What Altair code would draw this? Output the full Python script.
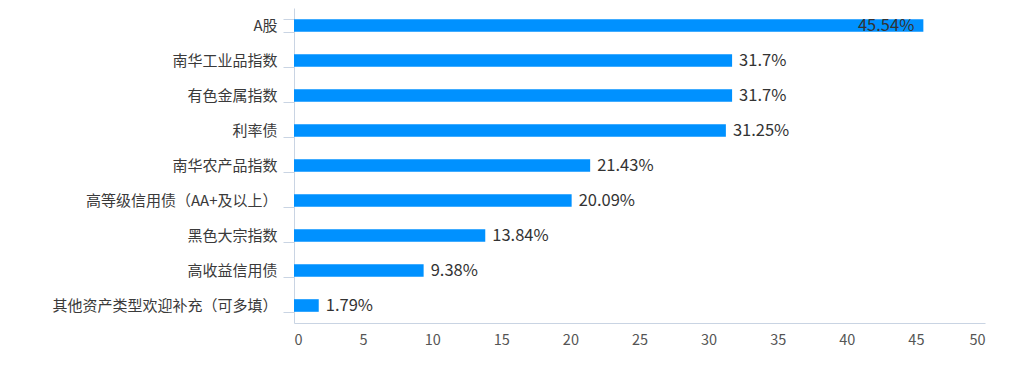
import altair as alt
import pandas as pd

categories = ["A股", "南华工业品指数", "有色金属指数", "利率债", "南华农产品指数",
              "高等级信用债（AA+及以上）", "黑色大宗指数", "高收益信用债", "其他资产类型欢迎补充（可多填）"]
values = [45.54, 31.7, 31.7, 31.25, 21.43, 20.09, 13.84, 9.38, 1.79]
labels = ["45.54%", "31.7%", "31.7%", "31.25%", "21.43%", "20.09%", "13.84%", "9.38%", "1.79%"]
x_ticks = [0, 5, 10, 15, 20, 25, 30, 35, 40, 45, 50]

df = pd.DataFrame({"cat": categories, "val": values, "lab": labels,
                   "inside": [True] + [False] * 8})

FONT = "Noto Sans CJK SC"
AXIS_COLOR = "#C9D4E3"

y_enc = alt.Y("cat:N", sort=categories, title=None,
              scale=alt.Scale(paddingInner=0.64, paddingOuter=0.32),
              axis=alt.Axis(labelFont=FONT, labelFontSize=15, labelColor="#3a3a3a",
                            labelPadding=6, labelLimit=400, tickBand="extent", tickSize=11,
                            tickColor=AXIS_COLOR, domainColor=AXIS_COLOR))
x_enc = alt.X("val:Q", title=None,
              scale=alt.Scale(domain=[0, 50], nice=False),
              axis=alt.Axis(values=x_ticks, labelFont=FONT, labelFontSize=14.5,
                            labelColor="#555555", ticks=False, grid=False,
                            labelPadding=10, domainColor=AXIS_COLOR))

bars = alt.Chart(df).mark_bar(color="#0091FF").encode(y=y_enc, x=x_enc)

text_out = alt.Chart(df).transform_filter("!datum.inside").mark_text(
    align="left", baseline="middle", dx=7, font=FONT, fontSize=16.5, color="#333333"
).encode(y=alt.Y("cat:N", sort=categories), x="val:Q", text="lab:N")

text_in = alt.Chart(df).transform_filter("datum.inside").mark_text(
    align="right", baseline="middle", dx=-9, font=FONT, fontSize=16.5, color="#333333"
).encode(y=alt.Y("cat:N", sort=categories), x="val:Q", text="lab:N")

chart = alt.layer(bars, text_out, text_in).properties(
    width=691, height=315,
    background="white",
    autosize=alt.AutoSizeParams(type="none"),
    padding={"left": 286, "top": 0, "right": 40, "bottom": 35},
).configure_view(strokeWidth=0, stroke="transparent")

chart.save("out.html", embed_options={"renderer": "svg", "actions": False})
